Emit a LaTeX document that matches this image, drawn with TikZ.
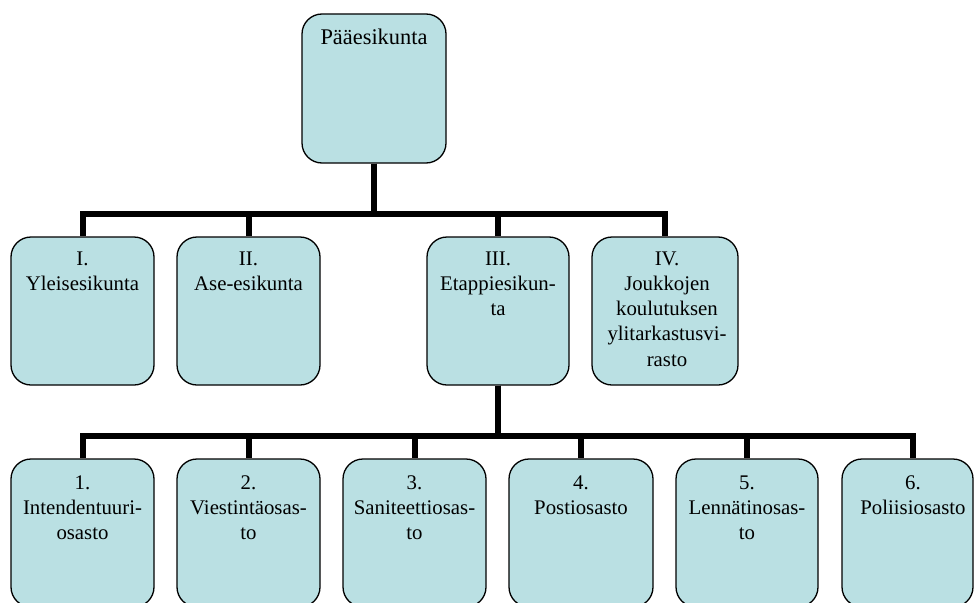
\documentclass[tikz,border=0pt]{standalone}
\usepackage{fontspec}
\setmainfont{Liberation Serif}
\definecolor{boxfill}{RGB}{186,224,227}
\tikzset{
  orgbox/.style={draw=black, line width=1.3pt, fill=boxfill, rounded corners=20pt, inner sep=0pt, minimum height=148pt},
  lbl/.style={align=center, inner sep=0pt, font=\fontsize{20.8}{25.2}\selectfont, anchor=north},
  conn/.style={line width=6pt, draw=black, line join=miter}
}
\begin{document}
\begin{tikzpicture}[x=1pt,y=-1pt]
\useasboundingbox (0,0) rectangle (976,602);
\clip (0,0) rectangle (976,602);
% boxes
\node[orgbox, minimum width=144pt, minimum height=149pt] (top) at (374,88.5) {};
\node[orgbox, minimum width=143pt] (b1) at (82.5,311) {};
\node[orgbox, minimum width=143pt] (b2) at (248.5,311) {};
\node[orgbox, minimum width=142pt] (b3) at (498,311) {};
\node[orgbox, minimum width=146pt] (b4) at (665,311) {};
\node[orgbox, minimum width=143pt] (c1) at (82.5,533) {};
\node[orgbox, minimum width=143pt] (c2) at (248.5,533) {};
\node[orgbox, minimum width=143pt] (c3) at (414.5,533) {};
\node[orgbox, minimum width=144pt] (c4) at (581,533) {};
\node[orgbox, minimum width=142pt] (c5) at (747,533) {};
\node[orgbox, minimum width=131pt] (c6) at (907.5,533) {};
% buses
\coordinate (bus1) at (0,213.5);
\coordinate (bus2) at (0,435.5);
% connectors
\foreach \c in {b1,b2,b3,b4}{
  \draw[conn] (top.south) |- (\c.north |- bus1) -- (\c.north);
}
\foreach \c in {c1,c2,c3,c4,c5}{
  \draw[conn] (b3.south) |- (\c.north |- bus2) -- (\c.north);
}
\draw[conn] (b3.south) |- ([xshift=5.5pt]c6.north |- bus2) -- ([xshift=5.5pt]c6.north);
% labels (first baseline = north + 17.6)
\node[lbl, font=\fontsize{22.4}{25.2}\selectfont] (ttop) at (374,26.4) {\strut Pääesikunta};
\node[lbl] (tb1) at (82.5,247.4) {\strut I.\\Yleisesikunta};
\node[lbl] (tb2) at (248.5,247.4) {\strut II.\\Ase-esikunta};
\node[lbl] (tb3) at (498,247.4) {\strut III.\\Etappiesikun-\\ta};
\node[lbl] (tb4) at (667,247.4) {\strut IV.\\Joukkojen\\koulutuksen\\ylitarkastusvi-\\rasto};
\node[lbl] (tc1) at (82.5,471.4) {\strut 1.\\Intendentuuri-\\osasto};
\node[lbl] (tc2) at (248.5,471.4) {\strut 2.\\Viestintäosas-\\to};
\node[lbl] (tc3) at (414.5,471.4) {\strut 3.\\Saniteettiosas-\\to};
\node[lbl] (tc4) at (581,471.4) {\strut 4.\\Postiosasto};
\node[lbl] (tc5) at (747,471.4) {\strut 5.\\Lennätinosas-\\to};
\node[lbl] (tc6) at (913,471.4) {\strut 6.\\Poliisiosasto};
\end{tikzpicture}
\end{document}
